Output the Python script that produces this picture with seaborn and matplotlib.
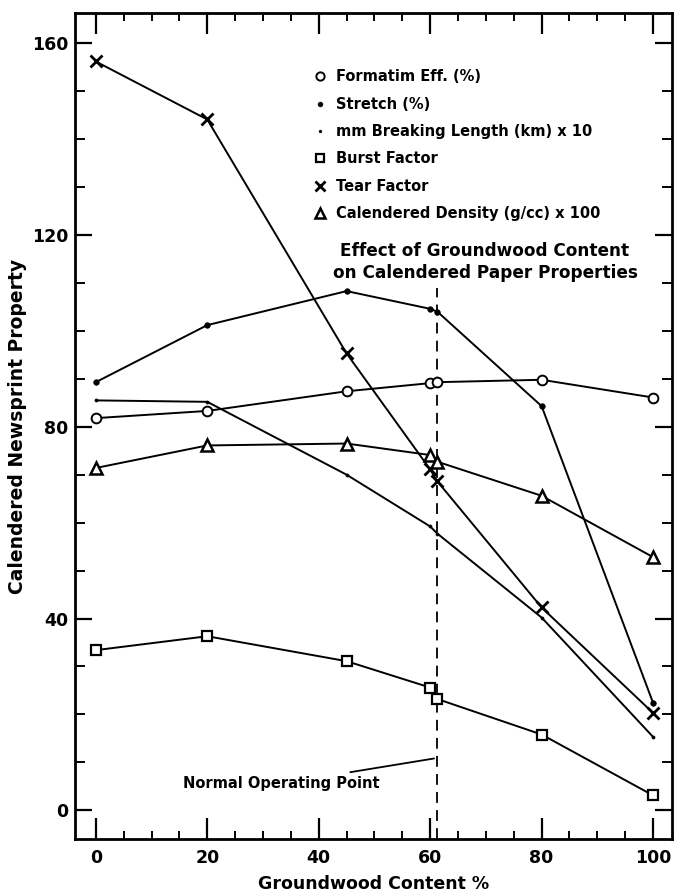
import matplotlib
matplotlib.use("Agg")
import matplotlib.pyplot as plt
from matplotlib.lines import Line2D
import seaborn as sns
import pandas as pd

# ---- data ----
groundwood = [0, 20, 45, 60, 61.3, 80, 100]
formation_eff = [81.8, 83.3, 87.4, 89.1, 89.3, 89.8, 86.1]
stretch = [89.3, 101.2, 108.3, 104.6, 104.0, 84.3, 22.4]
breaking_length = [85.5, 85.2, 70.0, 59.2, 57.7, 40.2, 15.3]
burst_factor = [33.4, 36.3, 31.1, 25.6, 23.2, 15.8, 3.1]
tear_factor = [156.2, 144.1, 95.3, 71.1, 68.6, 42.3, 20.3]
density = [71.4, 76.1, 76.5, 74.1, 72.7, 65.6, 52.8]

series_labels = ["Formatim Eff. (%)", "Stretch (%)", "mm Breaking Length (km) x 10",
                 "Burst Factor", "Tear Factor", "Calendered Density (g/cc) x 100"]
normal_point = 61.2
title_text = "Effect of Groundwood Content\non Calendered Paper Properties"
note_text = "Normal Operating Point"
x_ticks = [0, 20, 40, 60, 80, 100]
y_ticks = [0, 40, 80, 120, 160]

sns.set_theme(style="ticks")
plt.rcParams["font.family"] = ["DejaVu Sans"]
plt.rcParams["font.weight"] = "bold"
for k in ["text.color", "axes.labelcolor", "xtick.color", "ytick.color", "axes.edgecolor"]:
    plt.rcParams[k] = "black"

fig = plt.figure(figsize=(6.75, 8.94), dpi=100)
ax = fig.add_axes([0.1117, 0.0615, 0.8839, 0.9239])

values = [formation_eff, stretch, breaking_length, burst_factor, tear_factor, density]
styles = [
    dict(marker="o", ms=7, mfc="white", mew=1.4),
    dict(marker="o", ms=4, mfc="black", mew=0.5),
    dict(marker="o", ms=2.2, mfc="black", mew=0.5),
    dict(marker="s", ms=7.5, mfc="white", mew=1.6),
    dict(marker="x", ms=8, mfc="black", mew=2.0),
    dict(marker="^", ms=9, mfc="white", mew=1.8),
]

handles = []
for lab, vals, st in zip(series_labels, values, styles):
    df = pd.DataFrame({"x": groundwood, "y": vals})
    sns.lineplot(data=df, x="x", y="y", ax=ax, color="black", linewidth=1.4,
                 estimator=None, sort=False, marker=st["marker"],
                 markersize=st["ms"], markerfacecolor=st["mfc"],
                 markeredgecolor="black", markeredgewidth=st["mew"], zorder=3)
    handles.append(Line2D([], [], linestyle="None", color="black", marker=st["marker"],
                          markersize=st["ms"] * 0.85, markerfacecolor=st["mfc"],
                          markeredgecolor="black", markeredgewidth=st["mew"]))

ax.plot([normal_point, normal_point], [-6, 109], color="black", lw=1.3,
        dashes=(6, 4), zorder=2)

ax.set_xlim(-3.66, 103.4)
ax.set_ylim(-6, 166.3)
ax.set_xticks(x_ticks)
ax.set_xticks(list(range(0, 101, 5)), minor=True)
ax.set_yticks(y_ticks)
ax.set_yticks(list(range(0, 161, 10)), minor=True)
ax.set_xticklabels([str(t) for t in x_ticks], fontsize=12.5, fontweight="bold")
ax.set_yticklabels([str(t) for t in y_ticks], fontsize=12.5, fontweight="bold")
ax.tick_params(axis="x", which="major", direction="in", length=15, width=1.6,
               top=True, bottom=True, pad=7)
ax.tick_params(axis="x", which="minor", direction="in", length=6, width=1.4,
               top=True, bottom=True)
ax.tick_params(axis="y", which="major", direction="in", length=12, width=1.6,
               left=True, right=True, pad=5)
ax.tick_params(axis="y", which="minor", direction="in", length=7, width=1.4,
               left=True, right=True)
for sp in ax.spines.values():
    sp.set_linewidth(2.0)
    sp.set_visible(True)

ax.set_xlabel("Groundwood Content %", fontsize=12.5, fontweight="bold", labelpad=6)
ax.set_ylabel("Calendered Newsprint Property", fontsize=13.5, fontweight="bold", labelpad=4)

ax.legend(handles, series_labels, loc="upper left", bbox_to_anchor=(0.455, 0.929),
          bbox_transform=fig.transFigure, frameon=False, handlelength=1.0,
          handletextpad=0.6, labelspacing=0.85, borderaxespad=0,
          prop=dict(size=10.5, weight="bold"))

ax.text(0.6866, 0.699, title_text, transform=ax.transAxes, ha="center", va="center",
        fontsize=12.2, fontweight="bold", linespacing=1.3)

ax.annotate(note_text, xy=(60.7, 10.8), xytext=(51.0, 5.6), ha="right", va="center",
            fontsize=10.5, fontweight="bold",
            arrowprops=dict(arrowstyle="-", color="black", lw=1.3,
                            shrinkA=2, shrinkB=0))

fig.savefig("out.png", dpi=100)
